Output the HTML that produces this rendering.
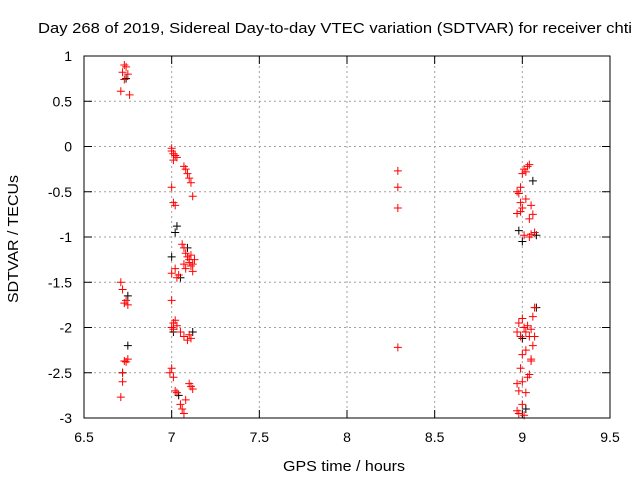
<!DOCTYPE html>
<html><head><meta charset="utf-8"><style>
body{margin:0;background:#fff;}
svg{display:block;font-family:"Liberation Sans",sans-serif;}
</style></head><body>
<svg id="chart" width="640" height="480" viewBox="0 0 640 480">
<text x="38" y="33" font-size="15" textLength="594" lengthAdjust="spacingAndGlyphs">Day 268 of 2019, Sidereal Day-to-day VTEC variation (SDTVAR) for receiver chti</text>
<text x="283" y="471" font-size="15" textLength="122" lengthAdjust="spacingAndGlyphs">GPS time / hours</text>
<text transform="translate(18,303) rotate(-90)" font-size="14.5" textLength="128" lengthAdjust="spacingAndGlyphs">SDTVAR / TECUs</text>
<g id="grid"></g>
<g id="ticks"></g>
<g id="marks"></g>
<rect x="84" y="56" width="526" height="362" fill="none" stroke="#000" stroke-width="1"/>
</svg>
<script>
const xTicks=[6.5,7,7.5,8,8.5,9,9.5];
const xTickLabels=["6.5","7","7.5","8","8.5","9","9.5"];
const yTicks=[1,0.5,0,-0.5,-1,-1.5,-2,-2.5,-3];
const yTickLabels=["1","0.5","0","-0.5","-1","-1.5","-2","-2.5","-3"];
const redX=[6.73,6.74,6.72,6.75,6.73,6.71,6.76,6.71,6.72,6.74,6.73,6.75,6.75,6.74,6.73,6.72,6.72,6.71,
7.0,7.0,7.01,7.02,7.03,7.01,7.07,7.08,7.09,7.1,7.11,7.12,7.0,7.01,7.02,7.13,7.06,7.07,7.08,7.09,7.1,7.11,7.12,7.07,7.08,7.1,7.11,7.12,7.0,7.02,7.03,7.04,7.0,7.01,7.02,7.0,7.01,7.03,7.05,7.07,7.09,7.1,7.11,6.99,7.0,7.01,7.02,7.03,7.05,7.06,7.07,7.1,7.11,7.12,7.08,
8.29,8.29,8.29,8.29,
8.97,8.98,8.99,9.0,9.01,9.02,9.03,9.04,9.05,9.06,8.99,9.0,9.02,9.04,8.97,8.99,9.01,9.04,9.05,9.07,8.98,9.0,9.01,9.02,9.03,9.04,9.05,9.06,9.07,8.97,8.99,9.0,9.02,9.05,9.06,9.07,8.99,9.0,9.04,9.05,8.97,8.98,9.02,9.03,8.97,8.98,9.0,9.01];
const redY=[0.9,0.88,0.82,0.8,0.74,0.61,0.57,-1.5,-1.58,-1.7,-1.73,-1.75,-2.35,-2.38,-2.37,-2.5,-2.6,-2.77,
-0.02,-0.05,-0.08,-0.1,-0.12,-0.15,-0.22,-0.25,-0.3,-0.35,-0.4,-0.55,-0.45,-0.62,-0.65,-1.25,-1.08,-1.12,-1.18,-1.22,-1.28,-1.32,-1.38,-1.3,-1.35,-1.25,-1.2,-1.3,-1.4,-1.35,-1.45,-1.42,-1.7,-2.02,-1.92,-2.0,-1.95,-1.98,-2.05,-2.1,-2.14,-2.08,-2.12,-2.5,-2.45,-2.55,-2.7,-2.72,-2.85,-2.9,-2.95,-2.62,-2.65,-2.68,-2.8,
-0.27,-0.45,-0.68,-2.22,
-0.5,-0.52,-0.45,-0.3,-0.25,-0.28,-0.22,-0.2,-0.65,-0.75,-0.72,-0.68,-0.58,-0.8,-0.74,-0.62,-0.98,-1.0,-0.97,-0.95,-1.95,-1.9,-2.0,-2.05,-1.98,-2.1,-2.02,-1.88,-1.78,-2.05,-2.1,-2.3,-2.25,-2.35,-2.2,-2.1,-2.45,-2.6,-2.52,-2.37,-2.62,-2.7,-2.72,-2.55,-2.92,-2.95,-2.85,-2.97];
const blackX=[6.74,6.75,6.75,6.72,7.0,7.03,7.05,7.02,7.09,7.01,7.04,7.12,8.98,9.0,9.06,9.08,9.08,9.0,9.02];
const blackY=[0.75,-1.65,-2.2,-2.5,-1.22,-0.88,-1.45,-0.95,-1.12,-2.05,-2.75,-2.05,-0.93,-1.05,-0.38,-0.98,-1.78,-2.12,-2.9];
const xs=v=>84+(v-6.5)/3*526;
const ys=v=>56+(1-v)/4*362;
const ns="http://www.w3.org/2000/svg";
function mk(tag,attrs,parent){const e=document.createElementNS(ns,tag);for(const k in attrs)e.setAttribute(k,attrs[k]);parent.appendChild(e);return e;}
const grid=document.getElementById('grid'),ticks=document.getElementById('ticks'),marks=document.getElementById('marks');
xTicks.forEach((t,i)=>{const x=xs(t);
 if(i>0&&i<xTicks.length-1){const g=mk('line',{x1:x,x2:x,y1:56,y2:418,stroke:'#a0a0a0','stroke-dasharray':'2,3'},grid);}
 mk('line',{x1:x,x2:x,y1:418,y2:410,stroke:'#000'},ticks);mk('line',{x1:x,x2:x,y1:56,y2:64,stroke:'#000'},ticks);
 const tx=mk('text',{x:x,y:442,'font-size':14,'text-anchor':'middle'},ticks);tx.textContent=xTickLabels[i];
 });
yTicks.forEach((t,i)=>{const y=ys(t);
 if(i>0&&i<yTicks.length-1){const g=mk('line',{x1:84,x2:610,y1:y,y2:y,stroke:'#a0a0a0','stroke-dasharray':'2,3'},grid);}
 mk('line',{x1:84,x2:92,y1:y,y2:y,stroke:'#000'},ticks);mk('line',{x1:610,x2:602,y1:y,y2:y,stroke:'#000'},ticks);
 const tx=mk('text',{x:72,y:y+5,'font-size':14,'text-anchor':'end'},ticks);tx.textContent=yTickLabels[i];
 });
function plus(x,y,c){const p=mk('path',{d:`M${x-4},${y}h8M${x},${y-4}v8`,stroke:c,'stroke-width':1,fill:'none'},marks);return p;}
blackX.forEach((v,i)=>{const p=plus(xs(v),ys(blackY[i]),'#000');
 
 });
redX.forEach((v,i)=>{const p=plus(xs(v),ys(redY[i]),'#ff0000');
 
 });
</script>
</body></html>
